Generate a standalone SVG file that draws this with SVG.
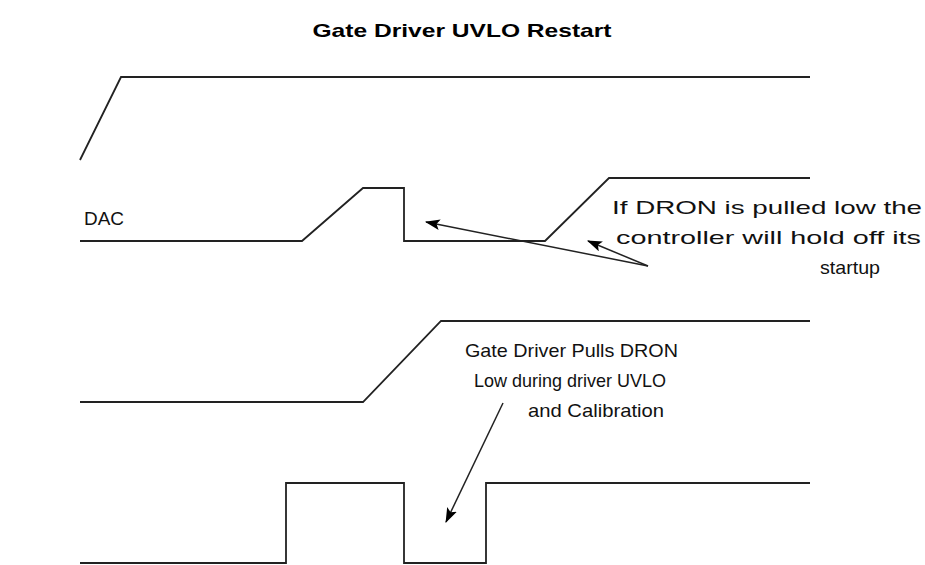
<svg xmlns="http://www.w3.org/2000/svg" width="925" height="565" viewBox="0 0 925 565">
<style>
.w{fill:none;stroke:#222;stroke-width:1.8;stroke-linejoin:miter}
.a{fill:none;stroke:#222;stroke-width:1.5}
.t{font-family:"Liberation Sans",Arial,sans-serif;font-size:19px;fill:#111}
.title{font-family:"Liberation Sans",Arial,sans-serif;font-size:19px;font-weight:bold;fill:#000}
</style>
<defs>
<marker id="ah" viewBox="0 0 14 10" refX="13" refY="5" markerWidth="15" markerHeight="11" markerUnits="userSpaceOnUse" orient="auto">
<path d="M0,0 L14,5 L0,10 L3,5 Z" fill="#000"/>
</marker>
</defs>
<rect width="925" height="565" fill="#fff"/>
<text class="title" x="462" y="37" text-anchor="middle" textLength="299" lengthAdjust="spacingAndGlyphs">Gate Driver UVLO Restart</text>
<g id="wave1"><polyline class="w" points="80,160 121,77 810,77"/></g>
<g id="wave-dac">
<polyline class="w" points="80,241 302,241 363,188 404,188 404,241 545,241 609,178 810,178"/>
<text class="t" x="84" y="225" textLength="40" lengthAdjust="spacingAndGlyphs">DAC</text>
</g>
<g id="wave3"><polyline class="w" points="80,402 363,402 441,321 810,321"/></g>
<g id="wave4"><polyline class="w" points="80,563 286,563 286,483 404,483 404,563 486,563 486,483 810,483"/></g>
<g id="note1">
<text class="t" x="612" y="214" textLength="310" lengthAdjust="spacingAndGlyphs">If DRON is pulled low the</text>
<text class="t" x="616" y="244" textLength="305" lengthAdjust="spacingAndGlyphs">controller will hold off its</text>
<text class="t" x="820" y="274" textLength="60" lengthAdjust="spacingAndGlyphs">startup</text>
</g>
<g id="note2">
<text class="t" x="465" y="357" textLength="213" lengthAdjust="spacingAndGlyphs">Gate Driver Pulls DRON</text>
<text class="t" x="474" y="387" textLength="192" lengthAdjust="spacingAndGlyphs">Low during driver UVLO</text>
<text class="t" x="528" y="417" textLength="136" lengthAdjust="spacingAndGlyphs">and Calibration</text>
</g>
<g id="connectors">
<line class="a" x1="648" y1="266" x2="426" y2="222" marker-end="url(#ah)"/>
<line class="a" x1="648" y1="266" x2="588" y2="241" marker-end="url(#ah)"/>
<line class="a" x1="503" y1="403" x2="446" y2="522" marker-end="url(#ah)"/>
</g>
</svg>
